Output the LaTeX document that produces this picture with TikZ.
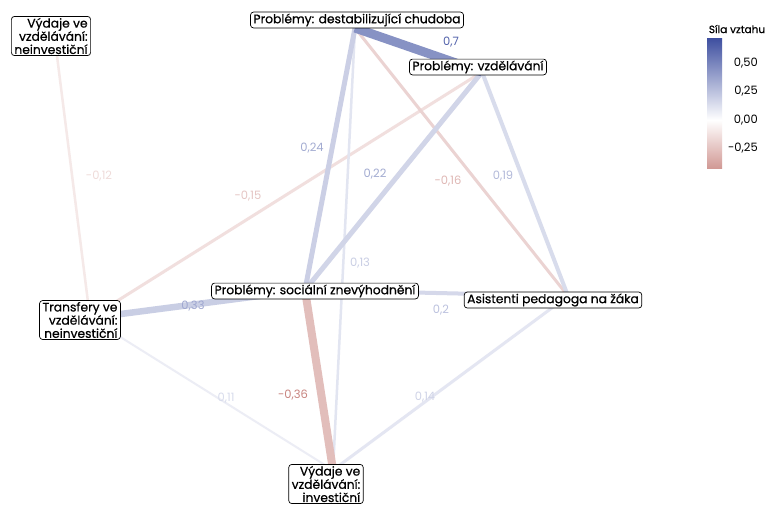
\documentclass[tikz,border=0pt]{standalone}
\usepackage{fontspec}
\setmainfont{Poppins}
\newfontfamily\labfont{Poppins}[FakeBold=0.6]
\definecolor{posc}{RGB}{62,79,160}
\definecolor{negc}{RGB}{190,110,104}

\begin{document}
\begin{tikzpicture}[x=1pt, y=-1pt,
    lab/.style = {draw, rounded corners=3pt, fill=white, inner xsep=3pt, inner ysep=1.5pt, line width=0.7pt, font=\labfont\fontsize{12.3}{13.2}\selectfont},
    labr/.style = {lab, align=right},
    rel/.style 2 args = {draw=#1, line width=#2},
    val/.style = {text=#1, inner sep=0pt, font=\fontsize{11.5}{13}\selectfont}]
    \useasboundingbox[fill=white] (0,0) rectangle (767,507);

    % graph points
    \coordinate (N) at (55,40);
    \coordinate (D) at (355,28);
    \coordinate (V) at (482,72);
    \coordinate (T) at (90,318);
    \coordinate (S) at (305,290);
    \coordinate (P) at (568,296);
    \coordinate (I) at (333,470);

    % relations
    \draw[rel={negc!15}{2.5}] (N) -- (T);
    \draw[rel={posc!10}{2}] (T) -- (I);
    \draw[rel={negc!22}{3}] (V) -- (T);
    \draw[rel={negc!30}{3}] (D) -- (P);
    \draw[rel={posc!15}{2.5}] (D) -- (I);
    \draw[rel={posc!14}{3}] (P) -- (I);
    \draw[rel={posc!20}{4}] (V) -- (P);
    \draw[rel={posc!22}{4}] (S) -- (P);
    \draw[rel={posc!24}{5}] (V) -- (S);
    \draw[rel={posc!27}{5}] (D) -- (S);
    \draw[rel={posc!28}{6.5}] (T) -- (S);
    \draw[rel={negc!45}{8}] (S) -- (I);
    \draw[rel={posc!62}{9}] (D) -- (V);

    % labels
    \node[labr] (Nlab) at (51,36) {Výdaje ve\\vzdělávání:\\neinvestiční};
    \node[lab] (Dlab) at (357,20) {Problémy: destabilizující chudoba};
    \node[lab] (Vlab) at (478,67) {Problémy: vzdělávání};
    \node[labr] (Tlab) at (80,320) {Transfery ve\\vzdělávání:\\neinvestiční};
    \node[lab] (Slab) at (315,291) {Problémy: sociální znevýhodnění};
    \node[lab] (Plab) at (553,300) {Asistenti pedagoga na žáka};
    \node[labr] (Ilab) at (326,484) {Výdaje ve\\vzdělávání:\\investiční};

    % values
    \node[val=posc!90] (vDV) at (451,42) {0,7};
    \node[val=posc!48] (vDS) at (312,148) {0,24};
    \node[val=posc!48] (vVS) at (375,174) {0,22};
    \node[val=negc!50] (vDP) at (448,181) {-0,16};
    \node[val=posc!40] (vVP) at (503,176) {0,19};
    \node[val=negc!40] (vVT) at (248,196) {-0,15};
    \node[val=negc!25] (vNT) at (99,176) {-0,12};
    \node[val=posc!28] (vDI) at (360,263) {0,13};
    \node[val=posc!50] (vTS) at (193,306) {0,33};
    \node[val=posc!35] (vSP) at (441,310) {0,2};
    \node[val=posc!20] (vTI) at (226,398) {0,11};
    \node[val=negc!85] (vSI) at (293,395) {-0,36};
    \node[val=posc!25] (vPI) at (425,397) {0,14};

    % legend
    \node[font=\labfont\fontsize{10.5}{12}\selectfont, inner sep=0pt] (legtitle) at (737,29) {Síla vztahu};
    \shade[top color=posc, bottom color=white] (707,38) rectangle (722,120);
    \shade[top color=white, bottom color=negc!70] (707,120) rectangle (722,168);
    \foreach \y/\t in {63/{0,50}, 91/{0,25}, 120/{0,00}, 148/{-0,25}}
        \node[anchor=east, inner sep=0pt, font=\fontsize{11.5}{13}\selectfont] at (758,\y) {\t};
\end{tikzpicture}
\end{document}
